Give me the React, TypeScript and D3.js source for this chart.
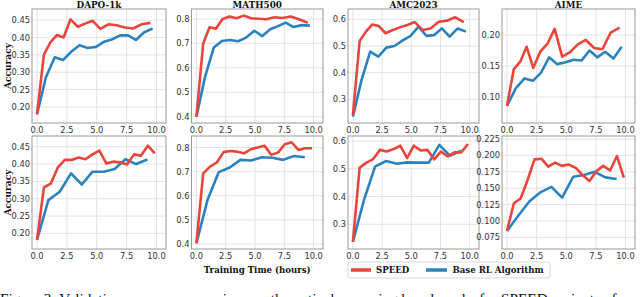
import React from "react";
import * as d3 from "d3";

const benchmarks = ["DAPO-1k", "MATH500", "AMC2023", "AIME"];
const xTicks = [0, 2.5, 5, 7.5, 10];

const topSpeedTime = [0, 0.58, 1.12, 1.66, 2.22, 2.8, 3.42, 4.02, 4.66, 5.3, 5.98, 6.65, 7.35, 8.05, 8.75, 9.5];
const topBaseTime = [0, 0.74, 1.48, 2.18, 2.86, 3.56, 4.24, 4.94, 5.62, 6.3, 6.96, 7.62, 8.28, 8.98, 9.68];
const bottomSpeedTime = [0, 0.58, 1.16, 1.74, 2.32, 2.9, 3.48, 4.06, 4.64, 5.22, 5.8, 6.38, 6.96, 7.54, 8.12, 8.7, 9.28, 9.86];
const bottomBaseTime = [0, 0.95, 1.9, 2.85, 3.75, 4.65, 5.6, 6.5, 7.4, 8.3, 9.25];

const dapoTopSpeed = [0.179, 0.351, 0.386, 0.407, 0.4, 0.452, 0.431, 0.44, 0.448, 0.425, 0.438, 0.435, 0.429, 0.426, 0.438, 0.442];
const dapoTopBase = [0.179, 0.285, 0.343, 0.335, 0.359, 0.378, 0.37, 0.373, 0.388, 0.395, 0.406, 0.406, 0.393, 0.415, 0.426];
const mathTopSpeed = [0.4, 0.7, 0.766, 0.76, 0.799, 0.81, 0.803, 0.814, 0.803, 0.801, 0.799, 0.807, 0.804, 0.81, 0.799, 0.785];
const mathTopBase = [0.4, 0.564, 0.683, 0.71, 0.714, 0.709, 0.724, 0.752, 0.73, 0.758, 0.771, 0.785, 0.767, 0.775, 0.773];
const amcTopSpeed = [0.241, 0.519, 0.554, 0.581, 0.575, 0.548, 0.56, 0.57, 0.579, 0.59, 0.56, 0.566, 0.591, 0.595, 0.608, 0.59];
const amcTopBase = [0.235, 0.373, 0.479, 0.46, 0.494, 0.5, 0.52, 0.538, 0.573, 0.538, 0.541, 0.566, 0.535, 0.566, 0.554];
const aimeTopSpeed = [0.0855, 0.145, 0.157, 0.181, 0.147, 0.173, 0.186, 0.21, 0.165, 0.172, 0.185, 0.192, 0.179, 0.177, 0.204, 0.212];
const aimeTopBase = [0.0855, 0.114, 0.13, 0.126, 0.139, 0.164, 0.153, 0.156, 0.16, 0.159, 0.175, 0.164, 0.173, 0.162, 0.181];

const dapoBottomSpeed = [0.181, 0.333, 0.344, 0.39, 0.412, 0.412, 0.419, 0.414, 0.428, 0.439, 0.402, 0.407, 0.405, 0.399, 0.428, 0.424, 0.453, 0.431];
const dapoBottomBase = [0.181, 0.296, 0.32, 0.373, 0.341, 0.378, 0.378, 0.386, 0.414, 0.4, 0.413];
const mathBottomSpeed = [0.403, 0.693, 0.721, 0.738, 0.781, 0.786, 0.783, 0.776, 0.793, 0.8, 0.808, 0.77, 0.779, 0.814, 0.822, 0.79, 0.797, 0.797];
const mathBottomBase = [0.403, 0.583, 0.698, 0.717, 0.749, 0.746, 0.76, 0.758, 0.749, 0.765, 0.76];
const amcBottomSpeed = [0.237, 0.504, 0.522, 0.535, 0.568, 0.562, 0.571, 0.583, 0.538, 0.583, 0.566, 0.568, 0.534, 0.562, 0.544, 0.559, 0.559, 0.589];
const amcBottomBase = [0.237, 0.388, 0.508, 0.528, 0.518, 0.523, 0.522, 0.522, 0.586, 0.547, 0.565];
const aimeBottomSpeed = [0.0847, 0.127, 0.1345, 0.1625, 0.194, 0.195, 0.183, 0.189, 0.184, 0.186, 0.181, 0.17, 0.161, 0.176, 0.184, 0.177, 0.199, 0.166];
const aimeBottomBase = [0.0847, 0.108, 0.13, 0.144, 0.152, 0.1355, 0.1675, 0.17, 0.175, 0.1665, 0.164];

const topYTicks = [
  [0.2, 0.25, 0.3, 0.35, 0.4, 0.45],
  [0.4, 0.5, 0.6, 0.7, 0.8],
  [0.3, 0.4, 0.5, 0.6],
  [0.1, 0.15, 0.2],
];
const bottomYTicks = [
  [0.2, 0.25, 0.3, 0.35, 0.4, 0.45],
  [0.4, 0.5, 0.6, 0.7, 0.8],
  [0.3, 0.4, 0.5, 0.6],
  [0.075, 0.1, 0.125, 0.15, 0.175, 0.2, 0.225],
];
const topYDomains = [[0.154, 0.482], [0.374, 0.841], [0.211, 0.639], [0.058, 0.242]];
const bottomYDomains = [[0.155, 0.481], [0.379, 0.848], [0.211, 0.618], [0.0572, 0.2296]];
const topFormats = [".2f", ".1f", ".1f", ".2f"];
const bottomFormats = [".2f", ".1f", ".1f", ".3f"];

const seriesNames = ["SPEED", "Base RL Algorithm"];

const RED = "#e8453c";
const BLUE = "#2c82bf";
const W = 640;
const H = 297;

const colLeft = [32, 191.5, 348, 502];
const colRight = [166, 323, 479, 635];
const rowTop = [9, 136];
const rowBottom = [123, 249];

const tickFont = "DejaVu Sans, sans-serif";
const serifBold = "DejaVu Serif, serif";

type PanelProps = {
  col: number;
  row: number;
  speedT: number[];
  speedV: number[];
  baseT: number[];
  baseV: number[];
  yDomain: number[];
  yTicks: number[];
  fmt: string;
  title?: string;
};

function Panel({ col, row, speedT, speedV, baseT, baseV, yDomain, yTicks, fmt, title }: PanelProps) {
  const x0 = colLeft[col];
  const x1 = colRight[col];
  const y0 = rowTop[row];
  const y1 = rowBottom[row];
  const x = d3.scaleLinear().domain([-0.42, 10.8]).range([x0, x1]);
  const y = d3.scaleLinear().domain(yDomain).range([y1, y0]);
  const f = d3.format(fmt);
  const line = d3
    .line<[number, number]>()
    .x((d) => x(d[0]))
    .y((d) => y(d[1]));
  const speedPts = speedT.map((t, i) => [t, speedV[i]] as [number, number]);
  const basePts = baseT.map((t, i) => [t, baseV[i]] as [number, number]);
  const clipId = `clip-${row}-${col}`;
  return (
    <g>
      <defs>
        <clipPath id={clipId}>
          <rect x={x0} y={y0} width={x1 - x0} height={y1 - y0} />
        </clipPath>
      </defs>
      <rect x={x0} y={y0} width={x1 - x0} height={y1 - y0} fill="#ffffff" />
      {xTicks.map((t) => (
        <line key={"gx" + t} x1={x(t)} x2={x(t)} y1={y0} y2={y1} stroke="#e3e3e3" strokeWidth={1} />
      ))}
      {yTicks.map((t) => (
        <line key={"gy" + t} x1={x0} x2={x1} y1={y(t)} y2={y(t)} stroke="#e3e3e3" strokeWidth={1} />
      ))}
      <g clipPath={`url(#${clipId})`}>
        <path d={line(basePts) || ""} fill="none" stroke={BLUE} strokeWidth={2.6} strokeLinejoin="round" />
        <path d={line(speedPts) || ""} fill="none" stroke={RED} strokeWidth={2.6} strokeLinejoin="round" />
      </g>
      <rect x={x0} y={y0} width={x1 - x0} height={y1 - y0} fill="none" stroke="#9a9a9a" strokeWidth={1} />
      {xTicks.map((t) => (
        <text
          key={"tx" + t}
          x={x(t)}
          y={y1 + 9.5}
          textAnchor="middle"
          fontFamily={tickFont}
          fontSize={8.3}
          fill="#333"
        >
          {d3.format(".1f")(t)}
        </text>
      ))}
      {yTicks.map((t) => (
        <text
          key={"ty" + t}
          x={x0 - 2}
          y={y(t) + 3}
          textAnchor="end"
          fontFamily={tickFont}
          fontSize={8.3}
          fill="#333"
        >
          {f(t)}
        </text>
      ))}
      {title && (
        <text
          x={(x0 + x1) / 2}
          y={y0 - 1.5}
          textAnchor="middle"
          fontFamily={serifBold}
          fontWeight="bold"
          fontSize={8.8}
          fill="#111"
        >
          {title}
        </text>
      )}
    </g>
  );
}

export default function App() {
  const topSpeed = [dapoTopSpeed, mathTopSpeed, amcTopSpeed, aimeTopSpeed];
  const topBase = [dapoTopBase, mathTopBase, amcTopBase, aimeTopBase];
  const bottomSpeed = [dapoBottomSpeed, mathBottomSpeed, amcBottomSpeed, aimeBottomSpeed];
  const bottomBase = [dapoBottomBase, mathBottomBase, amcBottomBase, aimeBottomBase];

  const legendX = 348;
  const legendY = 262;

  return (
    <svg
      width={W}
      height={H}
      viewBox={`0 0 ${W} ${H}`}
      style={{ position: "absolute", left: 0, top: 0, background: "#fff" }}
    >
      <rect x={0} y={0} width={W} height={H} fill="#fff" />
      {benchmarks.map((b, i) => (
        <Panel
          key={"top" + i}
          col={i}
          row={0}
          speedT={topSpeedTime}
          speedV={topSpeed[i]}
          baseT={topBaseTime}
          baseV={topBase[i]}
          yDomain={topYDomains[i]}
          yTicks={topYTicks[i]}
          fmt={topFormats[i]}
          title={b}
        />
      ))}
      {benchmarks.map((b, i) => (
        <Panel
          key={"bot" + i}
          col={i}
          row={1}
          speedT={bottomSpeedTime}
          speedV={bottomSpeed[i]}
          baseT={bottomBaseTime}
          baseV={bottomBase[i]}
          yDomain={bottomYDomains[i]}
          yTicks={bottomYTicks[i]}
          fmt={bottomFormats[i]}
        />
      ))}
      {[0, 1].map((r) => (
        <text
          key={"yl" + r}
          transform={`translate(10.5, ${(rowTop[r] + rowBottom[r]) / 2}) rotate(-90)`}
          textAnchor="middle"
          fontFamily={serifBold}
          fontWeight="bold"
          fontSize={9}
          fill="#111"
        >
          Accuracy
        </text>
      ))}
      <text
        x={(colLeft[1] + colRight[1]) / 2}
        y={273}
        textAnchor="middle"
        fontFamily={serifBold}
        fontWeight="bold"
        fontSize={8.6}
        fill="#111"
      >
        Training Time (hours)
      </text>
      <g>
        <rect
          x={legendX}
          y={legendY}
          width={202}
          height={16}
          rx={2}
          fill="#fff"
          stroke="#cfcfcf"
          strokeWidth={0.8}
        />
        <line x1={legendX + 3} x2={legendX + 23} y1={legendY + 8} y2={legendY + 8} stroke={RED} strokeWidth={3.5} />
        <text x={legendX + 28} y={legendY + 11} fontFamily={serifBold} fontWeight="bold" fontSize={8.6} fill="#111">
          {seriesNames[0]}
        </text>
        <line x1={legendX + 78} x2={legendX + 99} y1={legendY + 8} y2={legendY + 8} stroke={BLUE} strokeWidth={3.5} />
        <text x={legendX + 104.5} y={legendY + 11} fontFamily={serifBold} fontWeight="bold" fontSize={8.6} fill="#111">
          {seriesNames[1]}
        </text>
      </g>
      <text x={0} y={304} fontFamily="Liberation Serif, serif" fontSize={15.3} fill="#111">
        Figure 3: Validation accuracy on various mathematical reasoning benchmarks for SPEED variants of
      </text>
    </svg>
  );
}
